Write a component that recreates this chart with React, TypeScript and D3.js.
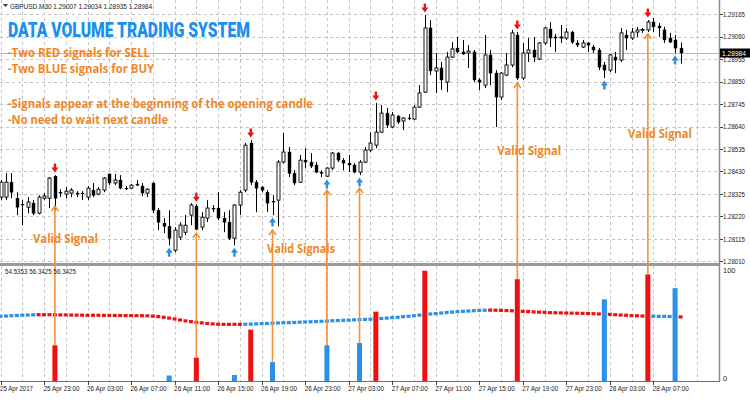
import React from 'react';
import { scaleLinear } from 'd3';

// GBPUSD M30, 25 Apr 19:00 -> 28 Apr 09:30 (open, high, low, close)
const ohlc: [number, number, number, number][] = [
  [1.2831, 1.2839, 1.28296, 1.2838], [1.2831, 1.28422, 1.28296, 1.2838], [1.2838, 1.28422, 1.28305, 1.28333],
  [1.28305, 1.28333, 1.28226, 1.28263], [1.28277, 1.28296, 1.28179, 1.28273], [1.28263, 1.2831, 1.28235, 1.28287],
  [1.28282, 1.28296, 1.28226, 1.28235], [1.28235, 1.28319, 1.2823, 1.2831], [1.28305, 1.28329, 1.28296, 1.28315],
  [1.28305, 1.28404, 1.28259, 1.28399], [1.28408, 1.28413, 1.28249, 1.28305], [1.28333, 1.28347, 1.2831, 1.28329],
  [1.28324, 1.28357, 1.28305, 1.28338], [1.28329, 1.28352, 1.2831, 1.28343], [1.28329, 1.28338, 1.2831, 1.28324],
  [1.28329, 1.28338, 1.28296, 1.28327], [1.2831, 1.28362, 1.28296, 1.28352], [1.28343, 1.28376, 1.2831, 1.28319],
  [1.28324, 1.28357, 1.28319, 1.28347], [1.28343, 1.28404, 1.28333, 1.28399], [1.28418, 1.28422, 1.28366, 1.28376],
  [1.28376, 1.28418, 1.28366, 1.2839], [1.2839, 1.28413, 1.28347, 1.28352], [1.28352, 1.28362, 1.28343, 1.2835],
  [1.28352, 1.28371, 1.28347, 1.28366], [1.28371, 1.2839, 1.28362, 1.28366], [1.28362, 1.28376, 1.28315, 1.28329],
  [1.28329, 1.28352, 1.2831, 1.28347], [1.28376, 1.2838, 1.28235, 1.28249], [1.28249, 1.28259, 1.28156, 1.28193],
  [1.28188, 1.28212, 1.28142, 1.28174], [1.28174, 1.28249, 1.28085, 1.28118], [1.28062, 1.2817, 1.28053, 1.28156],
  [1.28123, 1.28193, 1.28109, 1.28179], [1.28146, 1.28226, 1.28132, 1.28179], [1.28226, 1.28282, 1.28179, 1.28273],
  [1.28268, 1.28277, 1.28156, 1.2816], [1.2817, 1.2824, 1.28156, 1.28216], [1.28212, 1.28296, 1.28193, 1.28259],
  [1.28259, 1.28273, 1.2824, 1.28254], [1.28259, 1.28333, 1.28202, 1.28212], [1.28212, 1.2824, 1.28146, 1.28193],
  [1.28193, 1.28249, 1.28109, 1.28118], [1.28118, 1.28277, 1.28085, 1.28273], [1.28273, 1.28343, 1.28226, 1.28333],
  [1.28343, 1.28563, 1.28333, 1.28553], [1.28563, 1.28577, 1.28366, 1.2838], [1.2838, 1.2839, 1.2824, 1.28352],
  [1.28357, 1.28362, 1.28333, 1.28343], [1.28333, 1.28343, 1.2824, 1.28282], [1.28291, 1.28319, 1.28226, 1.28287],
  [1.28296, 1.28483, 1.28174, 1.28474], [1.28474, 1.2861, 1.28469, 1.28521], [1.28521, 1.28544, 1.28404, 1.28422],
  [1.28422, 1.28436, 1.28366, 1.28376], [1.2838, 1.28507, 1.28376, 1.28483], [1.28483, 1.28539, 1.28446, 1.28474],
  [1.28474, 1.28516, 1.28446, 1.28455], [1.2846, 1.28474, 1.28422, 1.28427], [1.28427, 1.28436, 1.28404, 1.28422],
  [1.28408, 1.2845, 1.28404, 1.28446], [1.28446, 1.28521, 1.28436, 1.28516], [1.28516, 1.28521, 1.28474, 1.28483],
  [1.28483, 1.28493, 1.28436, 1.28469], [1.28469, 1.28507, 1.28427, 1.2846], [1.2846, 1.28469, 1.28422, 1.28427],
  [1.28427, 1.28483, 1.28413, 1.28474], [1.28474, 1.28544, 1.28469, 1.2853], [1.2853, 1.28614, 1.28521, 1.28563],
  [1.28553, 1.2875, 1.28539, 1.28614], [1.28614, 1.28741, 1.2861, 1.28703], [1.28703, 1.28727, 1.28633, 1.28647],
  [1.28638, 1.28708, 1.28633, 1.28694], [1.28689, 1.28694, 1.28652, 1.28661], [1.28666, 1.28684, 1.28624, 1.2868],
  [1.2868, 1.28698, 1.2867, 1.28677], [1.28675, 1.28741, 1.2867, 1.28731], [1.28731, 1.28834, 1.28727, 1.28797],
  [1.28801, 1.29162, 1.28797, 1.29101], [1.29101, 1.29138, 1.28881, 1.289], [1.289, 1.28984, 1.28797, 1.28914],
  [1.28914, 1.28942, 1.28811, 1.28858], [1.28848, 1.28989, 1.28801, 1.28965], [1.28965, 1.29035, 1.28961, 1.29003],
  [1.29007, 1.29059, 1.28984, 1.28989], [1.28989, 1.29045, 1.28975, 1.28979], [1.28984, 1.29021, 1.28914, 1.28993],
  [1.28989, 1.28998, 1.28848, 1.28858], [1.28858, 1.28867, 1.28811, 1.28848], [1.28834, 1.29068, 1.2882, 1.28975],
  [1.28975, 1.28998, 1.28834, 1.2889], [1.2889, 1.28904, 1.28638, 1.28778], [1.28778, 1.28895, 1.28764, 1.2889],
  [1.28881, 1.28984, 1.28876, 1.28928], [1.28928, 1.29092, 1.28918, 1.29078], [1.29068, 1.29082, 1.28858, 1.28867],
  [1.28867, 1.29031, 1.28858, 1.28984], [1.28984, 1.29054, 1.28942, 1.28998], [1.28998, 1.29059, 1.28942, 1.28965],
  [1.28956, 1.29035, 1.28951, 1.29031], [1.29031, 1.29106, 1.29021, 1.29101], [1.29096, 1.29129, 1.29012, 1.29054],
  [1.29059, 1.29073, 1.28989, 1.29054], [1.29054, 1.29115, 1.29031, 1.29059], [1.29054, 1.29101, 1.29045, 1.29082],
  [1.29082, 1.29087, 1.29026, 1.29035], [1.29031, 1.29045, 1.29012, 1.29021], [1.29012, 1.29045, 1.29007, 1.29031],
  [1.29031, 1.29035, 1.28989, 1.29021], [1.29012, 1.29021, 1.28984, 1.28998], [1.28998, 1.29007, 1.28904, 1.28918],
  [1.28928, 1.28942, 1.28867, 1.28904], [1.28904, 1.28979, 1.28895, 1.28975], [1.28965, 1.28989, 1.2889, 1.28951],
  [1.28951, 1.29101, 1.28942, 1.29078], [1.29068, 1.29092, 1.28998, 1.29054], [1.29054, 1.29101, 1.29045, 1.29082],
  [1.29082, 1.29106, 1.29059, 1.29092], [1.29092, 1.29101, 1.29078, 1.29094], [1.29092, 1.29138, 1.29082, 1.29129],
  [1.29129, 1.29148, 1.29082, 1.29106], [1.2911, 1.29124, 1.29059, 1.29101], [1.29092, 1.29106, 1.29031, 1.29045],
  [1.29054, 1.29078, 1.29031, 1.29035], [1.29045, 1.29068, 1.28984, 1.29007], [1.29007, 1.29034, 1.28935, 1.28984],
];

// indicator signal line, one value per bar
const signalLine = [
  56.9, 57.1, 57.4, 57.6, 57.9, 58.0, 58.2,
  58.3, 58.3, 58.3, 58.2, 58.1, 58.1,
  58.0, 57.9, 57.9, 57.8, 57.8, 57.8, 57.7, 57.7,
  57.6, 57.6, 57.5, 57.5, 57.4, 57.4, 57.3,
  57.0, 56.6, 56.0, 55.3, 54.5, 53.6, 52.8, 52.1, 51.5, 51.0, 50.5, 50.1, 49.8, 49.7, 49.7, 49.7, 49.7,
  49.8, 49.9, 50.1, 50.3, 50.5, 50.7, 50.9, 51.1, 51.2, 51.4, 51.6, 51.8, 52.0, 52.2, 52.4, 52.6, 52.9,
  53.1, 53.3, 53.5, 53.7, 53.9, 54.1, 54.3,
  54.6, 54.9, 55.3, 55.7, 56.0, 56.5, 56.9, 57.4, 57.9, 58.4, 58.9, 59.3, 59.8, 60.2, 60.6, 61.0, 61.3,
  61.6, 61.9, 62.1, 62.3,
  62.4, 62.3, 62.2, 62.0, 61.8, 61.6, 61.3, 61.1, 60.8, 60.6, 60.4, 60.1, 60.0, 59.9, 59.8, 59.7, 59.6,
  59.5, 59.4, 59.2, 59.0, 58.8, 58.6, 58.3, 58.0, 57.8, 57.5, 57.3, 57.1,
  57.0, 56.9, 56.8, 56.8, 56.7, 56.6, 56.34,
];
const trendStarts = [0, 7, 45, 90, 119, 125];
const trendSides = ['buy', 'sell', 'buy', 'sell', 'buy', 'sell'];
const indicatorHeader = ['54.5353', '56.3425', '56.3425'];

// volume spikes = signals
const spikeIndex = [10, 31, 36, 43, 46, 50, 60, 66, 69, 78, 95, 111, 119, 124];
const spikeValue = [31, 4, 20, 4.5, 45, 16, 31, 33, 61, 97.6, 90, 72, 94.3, 82];
const spikeSide = ['sell', 'buy', 'sell', 'buy', 'sell', 'buy', 'buy', 'buy', 'sell', 'sell', 'sell', 'buy', 'sell', 'buy'];

// orange "valid" annotations
const validIndex = [10, 36, 50, 60, 66, 95, 119];
const validTip = [1.28268, 1.28142, 1.28156, 1.28343, 1.28352, 1.28844, 1.29073];
const validLabels = ['Valid Signal', 'Valid Signals', 'Valid Signal', 'Valid Signal'];
const validLabelAt: [number, number][] = [[5.97, 1.28095], [49, 1.28048], [91.3, 1.28507], [115.35, 1.28586]];
const validLabelWidth = [65, 68, 64, 64];

const priceTicks = [1.29165, 1.2906, 1.28955, 1.2885, 1.28745, 1.2864, 1.28535, 1.2843, 1.28325, 1.2822, 1.28115, 1.2801];
const timeTickIndex = [0, 8, 16, 24, 32, 40, 48, 56, 64, 72, 80, 88, 96, 104, 112, 120];
const timeTickLabels = [
  '25 Apr 2017', '25 Apr 23:00', '26 Apr 03:00', '26 Apr 07:00', '26 Apr 11:00', '26 Apr 15:00',
  '26 Apr 19:00', '26 Apr 23:00', '27 Apr 03:00', '27 Apr 07:00', '27 Apr 11:00', '27 Apr 15:00',
  '27 Apr 19:00', '27 Apr 23:00', '28 Apr 03:00', '28 Apr 07:00',
];

const notes = [
  { text: '-Two RED signals for SELL', y: 57, w: 142 },
  { text: '-Two BLUE signals for BUY', y: 72.5, w: 146 },
  { text: '-Signals appear at the beginning of the opening candle', y: 108, w: 305 },
  { text: '-No need to wait next candle', y: 124, w: 160 },
];

const RED = '#ee1111';
const BLUE = '#2a90e8';
const ORANGE = '#f29139';
const ORANGE_TEXT = '#f0872a';
const GRID = '#c4c4c4';
const SMALL = "'Liberation Sans', Arial, sans-serif";
const NOTE = "'Open Sans', Lato, sans-serif";
const PLOT_R = 720;

const x = scaleLinear().domain([0, 125]).range([0.5, 680.5]);
const y = scaleLinear().domain([1.2801, 1.29165]).range([261.3, 14.3]);
const yi = scaleLinear().domain([0, 100]).range([380, 268]);

const sideAt = (i: number) => {
  let s = trendSides[0];
  trendStarts.forEach((st, k) => { if (i >= st) s = trendSides[k]; });
  return s;
};

const downArrow = (cx: number, cy: number) =>
  `M${cx - 1.2},${cy - 4.5} h2.4 v4 h2.3 l-3.5,5 l-3.5,-5 h2.3 z`;
const upArrow = (cx: number, cy: number) =>
  `M${cx - 1.2},${cy + 4.5} h2.4 v-4 h2.3 l-3.5,-5 l-3.5,5 h2.3 z`;

const App: React.FC = () => {
  const last = ohlc[ohlc.length - 1];
  const fmt = (v: number) => v.toFixed(5);
  const crisp = (v: number) => Math.round(v) + 0.5;
  return (
    <svg width={750} height={404} style={{ position: 'absolute', left: 0, top: 0, background: '#fff' }}>
      <defs>
        <clipPath id="main"><rect x={0} y={0} width={PLOT_R} height={263} /></clipPath>
        <clipPath id="ind"><rect x={0} y={266} width={PLOT_R} height={115} /></clipPath>
      </defs>

      {/* grid */}
      <g stroke={GRID} strokeDasharray="3,3" strokeWidth={1}>
        {priceTicks.map((p) => (
          <line key={p} x1={0} x2={PLOT_R} y1={crisp(y(p))} y2={crisp(y(p))} />
        ))}
        {Array.from({ length: 33 }, (_, k) => k * 4).map((i) => (
          <g key={i}>
            <line x1={crisp(x(i))} x2={crisp(x(i))} y1={0} y2={263} />
            <line x1={crisp(x(i))} x2={crisp(x(i))} y1={266} y2={381} />
          </g>
        ))}
      </g>

      {/* current price line */}
      <line x1={0} x2={PLOT_R} y1={crisp(y(last[3]))} y2={crisp(y(last[3]))} stroke="#b8b8b8" />

      {/* candles */}
      <g clipPath="url(#main)">
        {ohlc.map(([o, h, l, c], i) => {
          const cx = crisp(x(i));
          const top = y(Math.max(o, c));
          const bot = y(Math.min(o, c));
          const up = c >= o;
          return (
            <g key={i}>
              <line x1={cx} x2={cx} y1={y(h)} y2={y(l)} stroke="#000" strokeWidth={1} />
              <rect x={cx - 1.5} y={top} width={3} height={Math.max(bot - top, 0.8)}
                fill={up ? '#fff' : '#000'} stroke="#000" strokeWidth={up ? 0.9 : 0.4} />
            </g>
          );
        })}
        {spikeIndex.map((i, k) => {
          const cx = x(i);
          return spikeSide[k] === 'sell'
            ? <path key={i} d={downArrow(cx, y(ohlc[i][1]) - 7)} fill={RED} />
            : <path key={i} d={upArrow(cx, y(ohlc[i][2]) + 7)} fill={BLUE} />;
        })}
      </g>

      {/* pane separator and frame */}
      <rect x={0} y={263} width={PLOT_R} height={3} fill="#9a9a9a" />
      <line x1={PLOT_R - 0.5} x2={PLOT_R - 0.5} y1={0} y2={381} stroke="#8a8a8a" strokeWidth={1.5} />
      <line x1={0} x2={PLOT_R} y1={381.5} y2={381.5} stroke="#707070" />

      {/* indicator */}
      <g clipPath="url(#ind)">
        {signalLine.map((v, i) => (
          <rect key={i} x={x(i) - 2} y={yi(v) - 1.6} width={4} height={3.2}
            fill={sideAt(i) === 'buy' ? BLUE : RED} />
        ))}
        {spikeIndex.map((i, k) => (
          <rect key={i} x={x(i) - 2.5} y={yi(spikeValue[k])} width={5} height={yi(0) - yi(spikeValue[k]) + 1}
            fill={spikeSide[k] === 'buy' ? BLUE : RED} />
        ))}
      </g>

      {/* orange annotations */}
      <g stroke={ORANGE} strokeWidth={1.6} fill="none">
        {validIndex.map((i, k) => {
          const cx = x(i);
          const tip = y(validTip[k]);
          const s = spikeIndex.indexOf(i);
          return (
            <g key={i}>
              <line x1={cx} x2={cx} y1={tip} y2={yi(spikeValue[s])} />
              <polyline points={`${cx - 3.5},${tip + 5} ${cx},${tip} ${cx + 3.5},${tip + 5}`} />
            </g>
          );
        })}
      </g>
      {validLabels.map((t, k) => (
        <text key={k} x={x(validLabelAt[k][0])} y={y(validLabelAt[k][1])} fill={ORANGE_TEXT}
          fontFamily={NOTE} fontWeight={700} fontSize={12.5}
          textLength={validLabelWidth[k]} lengthAdjust="spacingAndGlyphs">{t}</text>
      ))}

      {/* title and notes */}
      <text x={8} y={36.7} fill="#1a8ff0" fontFamily="Roboto, 'DejaVu Sans', sans-serif" fontWeight={900}
        fontSize={21} textLength={242} lengthAdjust="spacingAndGlyphs">DATA VOLUME TRADING SYSTEM</text>
      {notes.map((n) => (
        <text key={n.text} x={8} y={n.y} fill={ORANGE_TEXT} fontFamily={NOTE}
          fontWeight={700} fontSize={12.5} textLength={n.w} lengthAdjust="spacingAndGlyphs">{n.text}</text>
      ))}

      {/* symbol header */}
      <path d="M3,4 h5 l-2.5,3 z" fill="#333" />
      <text x={10} y={8.5} fontFamily={SMALL} fontSize={7.5} fill="#222" textLength={142} lengthAdjust="spacingAndGlyphs">
        {`GBPUSD.M30  ${last.map(fmt).join(' ')}`}
      </text>
      <text x={5} y={274} fontFamily={SMALL} fontSize={7.5} fill="#222" textLength={71} lengthAdjust="spacingAndGlyphs">
        {indicatorHeader.join(' ')}
      </text>

      {/* price axis */}
      {priceTicks.map((p) => (
        <g key={p}>
          <line x1={PLOT_R} x2={PLOT_R + 3} y1={crisp(y(p))} y2={crisp(y(p))} stroke="#444" />
          <text x={723} y={y(p) + 2.7} fontFamily={SMALL} fontSize={7.5} fill="#222" textLength={22}
            lengthAdjust="spacingAndGlyphs">{fmt(p)}</text>
        </g>
      ))}
      <rect x={PLOT_R} y={y(last[3]) - 4.5} width={30} height={9} fill="#000" />
      <text x={722} y={y(last[3]) + 2.7} fontFamily={SMALL} fontSize={7.5} fill="#fff" textLength={24}
        lengthAdjust="spacingAndGlyphs">{fmt(last[3])}</text>
      <text x={723} y={273} fontFamily={SMALL} fontSize={7.5} fill="#222">100</text>
      <text x={723} y={381} fontFamily={SMALL} fontSize={7.5} fill="#222">0</text>

      {/* time axis */}
      {timeTickIndex.map((i, k) => (
        <g key={i}>
          <line x1={crisp(x(i))} x2={crisp(x(i))} y1={381} y2={385} stroke="#444" />
          <text x={x(i) - 0.5} y={391} fontFamily={SMALL} fontSize={7.5} fill="#222"
            textLength={k === 0 ? 33 : 36} lengthAdjust="spacingAndGlyphs">{timeTickLabels[k]}</text>
        </g>
      ))}
    </svg>
  );
};

export default App;
